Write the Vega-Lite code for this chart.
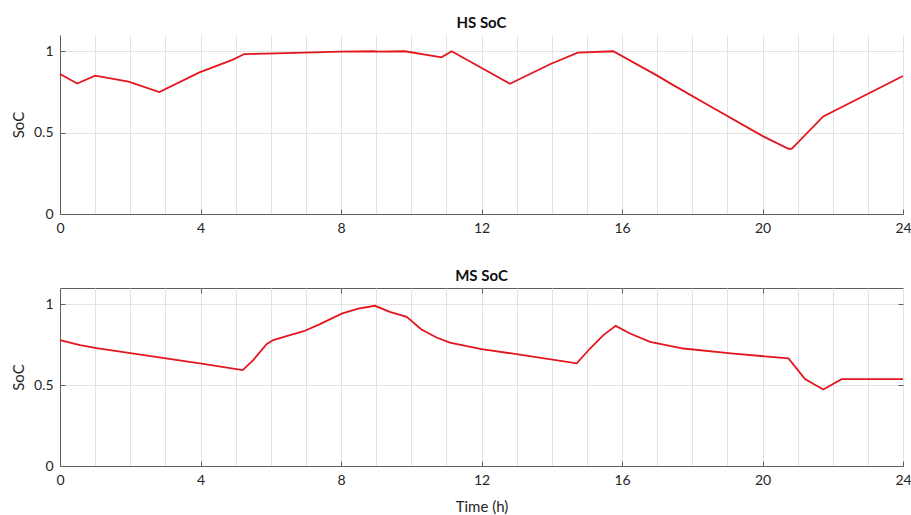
{
  "$schema": "https://vega.github.io/schema/vega-lite/v6.json",
  "padding": {"left": 10, "top": 16, "right": 0, "bottom": 0},
  "background": "white",
  "datasets": {
    "hs": [
      {"t": 0, "soc": 0.86}, {"t": 0.49, "soc": 0.802}, {"t": 1.0, "soc": 0.85},
      {"t": 1.95, "soc": 0.813}, {"t": 2.83, "soc": 0.749}, {"t": 3.97, "soc": 0.87},
      {"t": 4.89, "soc": 0.946}, {"t": 5.25, "soc": 0.983}, {"t": 5.88, "soc": 0.986},
      {"t": 8.0, "soc": 0.998}, {"t": 8.92, "soc": 1.0}, {"t": 9.05, "soc": 0.998},
      {"t": 9.82, "soc": 1.0}, {"t": 10.86, "soc": 0.963}, {"t": 11.15, "soc": 1.0},
      {"t": 12.81, "soc": 0.8}, {"t": 13.95, "soc": 0.92}, {"t": 14.74, "soc": 0.992},
      {"t": 15.75, "soc": 1.0}, {"t": 16.99, "soc": 0.852}, {"t": 17.41, "soc": 0.798},
      {"t": 18.51, "soc": 0.662}, {"t": 20.02, "soc": 0.477}, {"t": 20.74, "soc": 0.401},
      {"t": 20.83, "soc": 0.4}, {"t": 21.73, "soc": 0.6}, {"t": 24, "soc": 0.848}
    ],
    "ms": [
      {"t": 0, "soc": 0.778}, {"t": 0.57, "soc": 0.747}, {"t": 1.04, "soc": 0.728},
      {"t": 3.98, "soc": 0.634}, {"t": 5.2, "soc": 0.593}, {"t": 5.5, "soc": 0.654},
      {"t": 5.88, "soc": 0.753}, {"t": 6.07, "soc": 0.778}, {"t": 6.45, "soc": 0.802},
      {"t": 6.94, "soc": 0.833}, {"t": 7.4, "soc": 0.877}, {"t": 8.02, "soc": 0.942},
      {"t": 8.49, "soc": 0.973}, {"t": 8.97, "soc": 0.99}, {"t": 9.39, "soc": 0.953},
      {"t": 9.87, "soc": 0.922}, {"t": 10.29, "soc": 0.844}, {"t": 10.72, "soc": 0.794},
      {"t": 11.1, "soc": 0.763}, {"t": 12.0, "soc": 0.722}, {"t": 13.0, "soc": 0.691},
      {"t": 14.71, "soc": 0.634}, {"t": 15.09, "soc": 0.726}, {"t": 15.47, "soc": 0.809},
      {"t": 15.82, "soc": 0.866}, {"t": 16.23, "soc": 0.819}, {"t": 16.8, "soc": 0.767},
      {"t": 17.75, "soc": 0.726}, {"t": 19.17, "soc": 0.695}, {"t": 20.74, "soc": 0.665},
      {"t": 21.21, "soc": 0.537}, {"t": 21.73, "soc": 0.473}, {"t": 22.25, "soc": 0.537},
      {"t": 24, "soc": 0.537}
    ]
  },
  "vconcat": [
    {
      "width": 843,
      "height": 179,
      "title": {"text": "HS SoC"},
      "data": {"name": "hs"},
      "mark": {"type": "line", "color": "#e3161d", "strokeWidth": 1.8},
      "encoding": {
        "x": {
          "field": "t", "type": "quantitative",
          "scale": {"domain": [0, 24], "nice": false},
          "axis": {
            "title": null,
            "values": [0,1,2,3,4,5,6,7,8,9,10,11,12,13,14,15,16,17,18,19,20,21,22,23,24],
            "labelExpr": "datum.value % 4 === 0 ? datum.label : ''",
            "tickOpacity": {"condition": {"test": "datum.value % 4 === 0", "value": 1}, "value": 0}
          }
        },
        "y": {
          "field": "soc", "type": "quantitative",
          "scale": {"domain": [0, 1.1], "nice": false},
          "axis": {"title": "SoC", "values": [0, 0.5, 1], "format": "~g"}
        }
      }
    },
    {
      "width": 843,
      "height": 178,
      "title": {"text": "MS SoC"},
      "data": {"name": "ms"},
      "view": {"stroke": "#5e5e5e", "strokeWidth": 1},
      "layer": [
        {
          "mark": {"type": "line", "color": "#e3161d", "strokeWidth": 1.8},
          "encoding": {
            "x": {
              "field": "t", "type": "quantitative",
              "scale": {"domain": [0, 24], "nice": false},
              "axis": {
                "title": "Time (h)",
                "titlePadding": 12,
                "values": [0,1,2,3,4,5,6,7,8,9,10,11,12,13,14,15,16,17,18,19,20,21,22,23,24],
                "labelExpr": "datum.value % 4 === 0 ? datum.label : ''",
                "tickOpacity": {"condition": {"test": "datum.value % 4 === 0", "value": 1}, "value": 0}
              }
            },
            "y": {
              "field": "soc", "type": "quantitative",
              "scale": {"domain": [0, 1.1], "nice": false},
              "axis": {"title": "SoC", "values": [0, 0.5, 1], "format": "~g"}
            }
          }
        },
        {
          "mark": {"type": "line", "strokeOpacity": 0},
          "encoding": {
            "x": {
              "field": "t", "type": "quantitative",
              "axis": {"orient": "top", "title": null, "labels": false, "grid": false, "domain": false, "values": [4, 8, 12, 16, 20]}
            },
            "y": {
              "field": "soc", "type": "quantitative",
              "axis": {"orient": "right", "title": null, "labels": false, "grid": false, "domain": false, "values": [0.5, 1]}
            }
          }
        }
      ],
      "resolve": {"axis": {"x": "independent", "y": "independent"}}
    }
  ],
  "spacing": 74,
  "bounds": "flush",
  "config": {
    "font": "Lato",
    "view": {"stroke": null},
    "title": {"fontSize": 15, "fontWeight": "bold", "color": "#111111", "offset": 4, "anchor": "middle"},
    "axis": {
      "domainColor": "#5e5e5e",
      "domainWidth": 1,
      "tickColor": "#5e5e5e",
      "tickSize": -5,
      "labelPadding": 12,
      "labelFontSize": 14,
      "labelColor": "#262626",
      "labelFlush": false,
      "labelOverlap": false,
      "gridColor": "#e3e3e3",
      "gridWidth": 1,
      "titleFontSize": 15,
      "titleFontWeight": "normal",
      "titleColor": "#262626"
    },
    "axisY": {"titlePadding": 7}
  }
}
